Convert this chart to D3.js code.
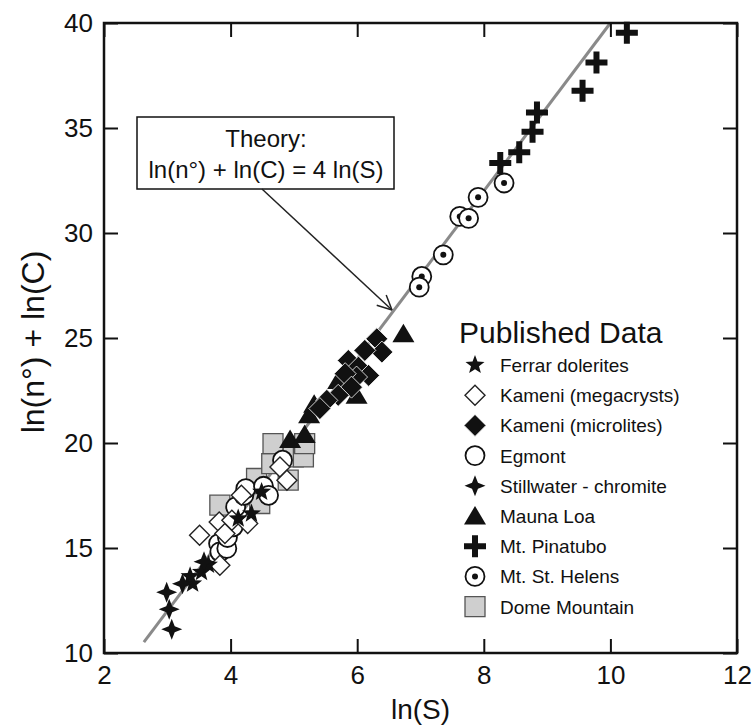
<!DOCTYPE html>
<html>
<head>
<meta charset="utf-8">
<script src="https://cdn.jsdelivr.net/npm/d3@7"></script>
<style>
  body { margin: 0; background: #fff; }
  svg text { font-family: "Liberation Sans", Arial, Helvetica, sans-serif; fill: #111; }
</style>
</head>
<body>
<svg id="chart" width="755" height="726"></svg>
<script>
// data: [ln(S), ln(n°)+ln(C)]
let ferrar = [[3.40, 13.3], [3.36, 13.65], [3.54, 13.85], [3.65, 14.2], [4.12, 16.4], [4.33, 16.64], [4.49, 17.67]];
let kameniMega = [[3.51, 15.61], [3.82, 16.24], [3.91, 15.69], [4.02, 16.32], [3.83, 14.18], [4.27, 16.17], [4.17, 17.51], [4.78, 18.86], [4.89, 18.23]];
let kameniMicro = [[6.31, 24.96], [6.39, 24.33], [6.12, 24.41], [5.86, 23.93], [6.02, 23.61], [6.18, 23.22], [5.99, 23.14], [5.81, 23.30], [5.91, 22.66], [5.70, 22.27], [5.52, 22.03], [5.41, 21.64]];
let egmont = [[3.81, 15.21], [3.83, 14.82], [3.94, 14.98], [3.95, 15.5], [4.04, 16.01], [4.08, 16.96], [4.21, 17.51], [4.24, 17.83], [4.52, 17.94], [4.60, 17.51], [4.82, 19.18]];
let stillwater = [[2.99, 12.89], [3.03, 12.08], [3.07, 11.13], [3.24, 13.3], [3.58, 14.35]];
let maunaLoa = [[4.94, 20.17], [5.17, 20.4], [5.24, 21.35], [5.32, 21.85], [5.70, 22.98], [5.99, 22.27], [6.73, 25.20]];
let pinatubo = [[10.26, 39.54], [9.78, 38.12], [9.56, 36.77], [8.84, 35.74], [8.77, 34.82], [8.56, 33.84], [8.26, 33.33]];
let stHelens = [[8.32, 32.38], [7.91, 31.70], [7.62, 30.79], [7.76, 30.70], [7.36, 28.96], [7.02, 27.93], [6.98, 27.42]];
let dome = [[3.83, 17.04], [4.46, 17.12], [4.41, 18.31], [4.65, 19.02], [4.67, 19.97], [4.91, 18.23], [4.99, 19.34], [5.15, 19.34], [5.17, 19.97]];

let xTicks = [2, 4, 6, 8, 10, 12];
let yTicks = [10, 15, 20, 25, 30, 35, 40];
let theoryX = [2.63, 10.0]; // ends of the theory line, y = 4x

let svg = d3.select("#chart");
let margin = {left: 104, right: 18, top: 23, bottom: 73};
let W = 755, H = 726;
let x = d3.scaleLinear().domain([2, 12]).range([margin.left, W - margin.right]);
let y = d3.scaleLinear().domain([10, 40]).range([H - margin.bottom, margin.top]);

// marker shapes
function starPath(n, r, inner) {
  let p = d3.path();
  for (let i = 0; i < 2 * n; i++) {
    let a = -Math.PI / 2 + i * Math.PI / n;
    let rr = i % 2 == 0 ? r : r * inner;
    if (i == 0) p.moveTo(rr * Math.cos(a), rr * Math.sin(a));
    else p.lineTo(rr * Math.cos(a), rr * Math.sin(a));
  }
  p.closePath();
  return p.toString();
}
function diamond(r) {
  return "M0," + (-r) + "L" + r + ",0L0," + r + "L" + (-r) + ",0Z";
}
function triangle(r) {
  return "M0," + (-r) + "L" + (r * 1.1) + "," + (r * 0.85) + "L" + (-r * 1.1) + "," + (r * 0.85) + "Z";
}
function cross(r, t) {
  return "M" + (-t) + "," + (-r) + "H" + t + "V" + (-t) + "H" + r + "V" + t + "H" + t + "V" + r +
    "H" + (-t) + "V" + t + "H" + (-r) + "V" + (-t) + "H" + (-t) + "Z";
}
function square(r) {
  return "M" + (-r) + "," + (-r) + "H" + r + "V" + r + "H" + (-r) + "Z";
}
function circle(r) {
  return "M" + r + ",0A" + r + "," + r + " 0 1,1 " + (-r) + ",0A" + r + "," + r + " 0 1,1 " + r + ",0Z";
}

let series = [
  {name: "Dome Mountain", data: dome, draw: function(g) {
    g.append("path").attr("d", square(10)).attr("fill", "#cfcfcf").attr("stroke", "#555").attr("stroke-width", 1.3);
  }},
  {name: "Egmont", data: egmont, draw: function(g) {
    g.append("path").attr("d", circle(9.5)).attr("fill", "#fff").attr("stroke", "#111").attr("stroke-width", 1.8);
  }},
  {name: "Kameni (megacrysts)", data: kameniMega, draw: function(g) {
    g.append("path").attr("d", diamond(10)).attr("fill", "#fff").attr("stroke", "#222").attr("stroke-width", 1.4);
  }},
  {name: "Ferrar dolerites", data: ferrar, draw: function(g) {
    g.append("path").attr("d", starPath(5, 10, 0.42)).attr("fill", "#111");
  }},
  {name: "Stillwater - chromite", data: stillwater, draw: function(g) {
    g.append("path").attr("d", starPath(4, 10.5, 0.4)).attr("fill", "#111");
  }},
  {name: "Mauna Loa", data: maunaLoa, draw: function(g) {
    g.append("path").attr("d", triangle(10)).attr("fill", "#111");
  }},
  {name: "Kameni (microlites)", data: kameniMicro, draw: function(g) {
    g.append("path").attr("d", diamond(11)).attr("fill", "#111").attr("stroke", "#fff").attr("stroke-width", 0.8);
  }},
  {name: "Mt. St. Helens", data: stHelens, draw: function(g) {
    g.append("path").attr("d", circle(9.5)).attr("fill", "#fff").attr("stroke", "#111").attr("stroke-width", 1.8);
    g.append("circle").attr("r", 3).attr("fill", "#111");
  }},
  {name: "Mt. Pinatubo", data: pinatubo, draw: function(g) {
    g.append("path").attr("d", cross(11, 3)).attr("fill", "#111");
  }}
];
let legendOrder = ["Ferrar dolerites", "Kameni (megacrysts)", "Kameni (microlites)", "Egmont",
  "Stillwater - chromite", "Mauna Loa", "Mt. Pinatubo", "Mt. St. Helens", "Dome Mountain"];

// theory line
svg.append("line")
  .attr("x1", x(theoryX[0])).attr("y1", y(4 * theoryX[0]))
  .attr("x2", x(theoryX[1])).attr("y2", y(4 * theoryX[1]))
  .attr("stroke", "#8a8a8a").attr("stroke-width", 3);

// points
series.forEach(function(s) {
  let g = svg.append("g").attr("class", "series");
  s.data.forEach(function(d) {
    let m = g.append("g").attr("transform", "translate(" + x(d[0]) + "," + y(d[1]) + ")");
    s.draw(m);
  });
});

// axes: inward ticks on all four sides
let tickLen = 14;
svg.append("g").attr("transform", "translate(0," + y(10) + ")")
  .call(d3.axisBottom(x).tickValues(xTicks).tickSizeInner(-tickLen).tickSizeOuter(0).tickPadding(13))
  .call(g => g.selectAll("text").style("font-size", "26px"));
svg.append("g").attr("transform", "translate(0," + y(40) + ")")
  .call(d3.axisTop(x).tickValues(xTicks).tickSizeInner(-tickLen).tickSizeOuter(0).tickFormat(""));
svg.append("g").attr("transform", "translate(" + x(2) + ",0)")
  .call(d3.axisLeft(y).tickValues(yTicks).tickSizeInner(-tickLen).tickSizeOuter(0).tickPadding(11))
  .call(g => g.selectAll("text").style("font-size", "26px"));
svg.append("g").attr("transform", "translate(" + x(12) + ",0)")
  .call(d3.axisRight(y).tickValues(yTicks).tickSizeInner(-tickLen).tickSizeOuter(0).tickFormat(""));
svg.selectAll(".domain").remove();
svg.selectAll(".tick line").attr("stroke", "#111").attr("stroke-width", 2);
svg.selectAll(".tick text").attr("fill", "#111");

svg.append("rect")
  .attr("x", x(2)).attr("y", y(40))
  .attr("width", x(12) - x(2)).attr("height", y(10) - y(40))
  .attr("fill", "none").attr("stroke", "#111").attr("stroke-width", 2.5);

// axis titles
svg.append("text").attr("x", (x(2) + x(12)) / 2).attr("y", 719)
  .attr("text-anchor", "middle").style("font-size", "28px").text("ln(S)");
svg.append("text").attr("transform", "translate(44,342) rotate(-90)")
  .attr("text-anchor", "middle").style("font-size", "32px").text("ln(n°) + ln(C)");

// theory annotation
svg.append("rect").attr("x", 137).attr("y", 117).attr("width", 257).attr("height", 72)
  .attr("fill", "#fff").attr("stroke", "#111").attr("stroke-width", 1.5);
svg.append("text").attr("x", 266).attr("y", 147).attr("text-anchor", "middle")
  .style("font-size", "24px").text("Theory:");
svg.append("text").attr("x", 266).attr("y", 178).attr("text-anchor", "middle")
  .style("font-size", "24px").text("ln(n°) + ln(C) = 4 ln(S)");

let ax0 = [262, 189], ax1 = [392, 310];
svg.append("line").attr("x1", ax0[0]).attr("y1", ax0[1]).attr("x2", ax1[0]).attr("y2", ax1[1])
  .attr("stroke", "#222").attr("stroke-width", 1.5);
let ang = Math.atan2(ax1[1] - ax0[1], ax1[0] - ax0[0]);
[0.45, -0.45].forEach(function(da) {
  svg.append("line").attr("x1", ax1[0]).attr("y1", ax1[1])
    .attr("x2", ax1[0] - 16 * Math.cos(ang + da)).attr("y2", ax1[1] - 16 * Math.sin(ang + da))
    .attr("stroke", "#222").attr("stroke-width", 1.5);
});

// legend
let legend = svg.append("g").attr("class", "legend");
legend.append("text").attr("x", 459).attr("y", 343).style("font-size", "30px").text("Published Data");
legendOrder.forEach(function(name, i) {
  let s = series.find(d => d.name == name);
  let row = legend.append("g").attr("transform", "translate(475," + (365 + 30.2 * i) + ")");
  s.draw(row);
  row.append("text").attr("x", 25).attr("y", 7).style("font-size", "19px").text(name);
});
</script>
</body>
</html>
